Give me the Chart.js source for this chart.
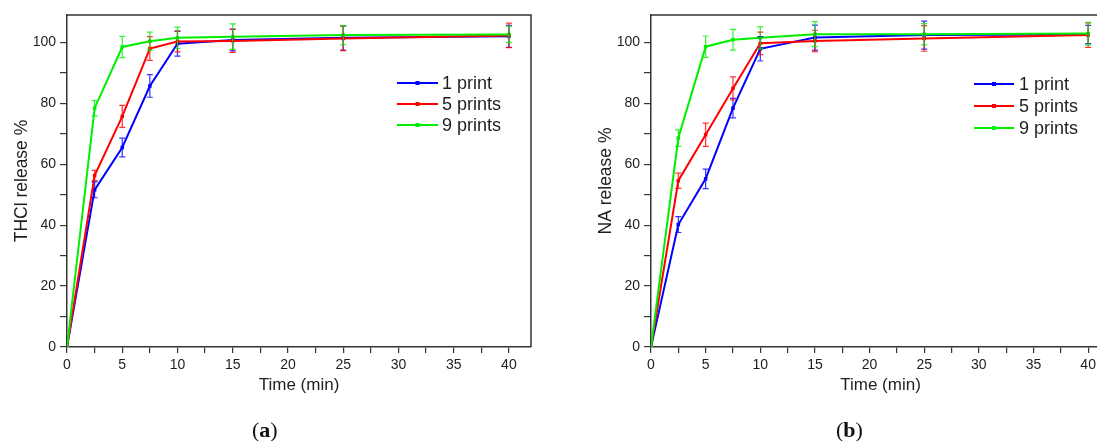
<!DOCTYPE html>
<html>
<head>
<meta charset="utf-8">
<script src="https://cdn.jsdelivr.net/npm/chart.js@4.4.0/dist/chart.umd.min.js"></script>
<style>
    html, body { margin: 0; padding: 0; overflow: hidden; background: #fff; }
    body { position: relative; width: 1097px; height: 441px; }
    .panel { position: absolute; top: 0; height: 441px; }
    .cap { position: absolute; top: 417px; font-family: "Liberation Serif", serif; font-size: 22px; line-height: 26px; color: #111; }
</style>
</head>
<body>
<div class="panel" style="left:0;width:550px"><canvas id="chartA" width="550" height="441"></canvas></div>
<div class="panel" style="left:584px;width:545px"><canvas id="chartB" width="545" height="441"></canvas></div>
<div class="cap" style="left:252px">(<b>a</b>)</div>
<div class="cap" style="left:836px">(<b>b</b>)</div>
<script>
const timeMin = [0, 2.5, 5, 7.5, 10, 15, 25, 40];
const seriesNames = ['1 print', '5 prints', '9 prints'];

// (a) THCl release %
const thclOne = [0, 51.6, 65.5, 85.7, 99.6, 100.8, 101.5, 102];
const thclOneErr = [0, 2.6, 3.1, 3.7, 4.1, 3.6, 4, 3.6];
const thclFive = [0, 56.3, 75.7, 98, 100.3, 100.5, 101.3, 102.3];
const thclFiveErr = [0, 1.7, 3.6, 3.9, 3.4, 3.8, 4, 4];
const thclNine = [0, 78.4, 98.5, 100.4, 101.5, 101.9, 102.4, 102.6];
const thclNineErr = [0, 2.5, 3.5, 3, 3.5, 4.2, 3.1, 2.7];

// (b) NA release %
const naOne = [0, 40.2, 55.2, 78.4, 97.9, 101.6, 102.4, 102.6];
const naOneErr = [0, 2.6, 3.2, 3.2, 4, 4.1, 4.6, 3];
const naFive = [0, 54.6, 69.7, 84.9, 99.7, 100.5, 101.3, 102.4];
const naFiveErr = [0, 2.5, 3.8, 3.8, 3.7, 3.5, 4.2, 4];
const naNine = [0, 68.6, 98.6, 100.9, 101.5, 102.7, 102.7, 102.9];
const naNineErr = [0, 2.7, 3.5, 3.4, 3.6, 4.1, 3.5, 3.7];

const colors = ['#0000ff', '#ff0000', '#00ee00'];
const textColor = '#1e1e1e';
const axisColor = '#333333';
const fontFamily = '"Liberation Sans", Arial, sans-serif';

// vertical error bars with caps, drawn through the y scale
const errorBars = {
    id: 'errorBars',
    afterDatasetsDraw(chart) {
        const ctx = chart.ctx;
        const yScale = chart.scales.y;
        chart.data.datasets.forEach((ds, i) => {
            const meta = chart.getDatasetMeta(i);
            ctx.save();
            ctx.strokeStyle = ds.borderColor;
            ctx.globalAlpha = 0.8;
            ctx.lineWidth = 1.2;
            meta.data.forEach((pt, j) => {
                const err = ds.errors[j];
                if (!err) return;
                const v = ds.data[j].y;
                const yTop = yScale.getPixelForValue(v + err);
                const yBot = yScale.getPixelForValue(v - err);
                ctx.beginPath();
                ctx.moveTo(pt.x, yTop);
                ctx.lineTo(pt.x, yBot);
                ctx.moveTo(pt.x - 3, yTop);
                ctx.lineTo(pt.x + 3, yTop);
                ctx.moveTo(pt.x - 3, yBot);
                ctx.lineTo(pt.x + 3, yBot);
                ctx.stroke();
            });
            ctx.restore();
        });
    }
};

// closed box around the plot and the inset legend
const frameAndLegend = {
    id: 'frameAndLegend',
    afterDraw(chart, args, opts) {
        const ctx = chart.ctx;
        const a = chart.chartArea;
        ctx.save();
        ctx.strokeStyle = axisColor;
        ctx.lineWidth = 1.5;
        ctx.beginPath();
        ctx.moveTo(a.left, a.top);
        ctx.lineTo(a.right, a.top);
        ctx.lineTo(a.right, a.bottom);
        ctx.stroke();

        ctx.font = '18px ' + fontFamily;
        ctx.textBaseline = 'middle';
        ctx.fillStyle = textColor;
        chart.data.datasets.forEach((ds, i) => {
            const y = opts.rows[i];
            ctx.strokeStyle = ds.borderColor;
            ctx.lineWidth = 2;
            ctx.beginPath();
            ctx.moveTo(opts.lineStart, y);
            ctx.lineTo(opts.lineEnd, y);
            ctx.stroke();
            ctx.fillStyle = ds.borderColor;
            const mid = (opts.lineStart + opts.lineEnd) / 2;
            ctx.fillRect(mid - 2, y - 2, 4, 4);
            ctx.fillStyle = textColor;
            ctx.fillText(ds.label, opts.textX, y + 1);
        });
        ctx.restore();
    }
};

function makeDataset(i, values, errs) {
    return {
        label: seriesNames[i],
        data: timeMin.map((t, k) => ({ x: t, y: values[k] })),
        errors: errs,
        borderColor: colors[i],
        backgroundColor: colors[i],
        borderWidth: 2,
        pointStyle: 'rect',
        pointRadius: 2.5,
        pointBorderWidth: 0,
        tension: 0,
        order: 3 - i
    };
}

function makeChart(canvasId, yTitle, series, legendOpts) {
    const ctx = document.getElementById(canvasId).getContext('2d');
    return new Chart(ctx, {
        type: 'line',
        data: {
            datasets: series.map((s, i) => makeDataset(i, s[0], s[1]))
        },
        options: {
            responsive: false,
            animation: false,
            layout: { padding: { top: 15, right: 19, left: 0, bottom: 0 } },
            plugins: {
                legend: { display: false },
                tooltip: { enabled: false },
                frameAndLegend: legendOpts
            },
            scales: {
                x: {
                    type: 'linear',
                    min: 0,
                    max: 42,
                    afterFit: s => { s.height = 94; },
                    ticks: {
                        stepSize: 2.5,
                        includeBounds: false,
                        autoSkip: false,
                        maxRotation: 0,
                        padding: 4,
                        color: textColor,
                        font: { family: fontFamily, size: 14 },
                        callback: v => (v % 5 === 0 ? v : '')
                    },
                    grid: { drawOnChartArea: false, tickLength: 6, color: axisColor, lineWidth: 1.2 },
                    border: { color: axisColor, width: 1.5 },
                    title: {
                        display: true,
                        text: 'Time (min)',
                        color: textColor,
                        font: { family: fontFamily, size: 17 },
                        padding: { top: 0, bottom: 45 }
                    }
                },
                y: {
                    min: 0,
                    max: 109,
                    afterFit: s => { s.width = 67; },
                    ticks: {
                        stepSize: 10,
                        includeBounds: false,
                        padding: 4,
                        color: textColor,
                        font: { family: fontFamily, size: 14 },
                        callback: v => (v % 20 === 0 ? v : '')
                    },
                    grid: { drawOnChartArea: false, tickLength: 7, color: axisColor, lineWidth: 1.2 },
                    border: { color: axisColor, width: 1.5 },
                    title: {
                        display: true,
                        text: yTitle,
                        color: textColor,
                        font: { family: fontFamily, size: 17.5 },
                        padding: { top: 12, bottom: 0 }
                    }
                }
            }
        },
        plugins: [errorBars, frameAndLegend]
    });
}

makeChart('chartA', 'THCl release %',
    [[thclOne, thclOneErr], [thclFive, thclFiveErr], [thclNine, thclNineErr]],
    { lineStart: 397, lineEnd: 438, textX: 442, rows: [83, 104, 125] });

makeChart('chartB', 'NA release %',
    [[naOne, naOneErr], [naFive, naFiveErr], [naNine, naNineErr]],
    { lineStart: 390, lineEnd: 430, textX: 435, rows: [84, 106, 128] });
</script>
</body>
</html>
